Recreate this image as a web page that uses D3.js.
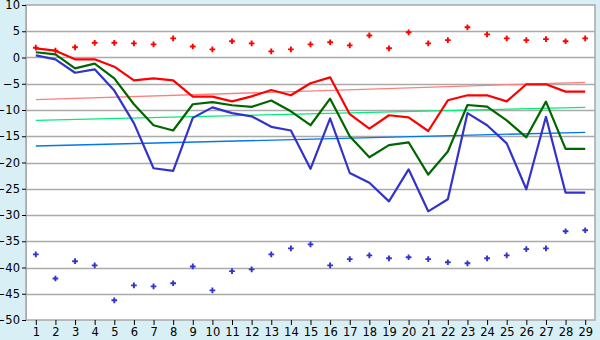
<!DOCTYPE html>
<html>
<head>
<meta charset="utf-8">
<script src="https://cdn.jsdelivr.net/npm/d3@7"></script>
<style>
  body { margin: 0; background: #d9eff6; }
  svg { display: block; }
  .tick text { font-family: "DejaVu Sans", sans-serif; font-size: 11.5px; fill: #000; }
</style>
</head>
<body>
<div id="chart"></div>
<script>
// days on the x axis
const days = d3.range(1, 30);

const redLine = [1.75, 1.3, -0.35, -0.35, -1.75, -4.35, -3.97, -4.35, -7.45, -7.45,
  -8.35, -7.4, -6.2, -7.2, -4.9, -3.78, -10.8, -13.55, -11.0, -11.4,
  -14.0, -8.15, -7.2, -7.2, -8.35, -5.1, -5.1, -6.5, -6.5];

const greenLine = [1.0, 0.6, -2.06, -1.17, -3.97, -8.9, -12.9, -13.9, -8.9, -8.5,
  -9.1, -9.4, -8.2, -10.25, -12.9, -7.85, -15.0, -19.0, -16.7, -16.15,
  -22.3, -17.9, -9.05, -9.37, -11.97, -15.2, -8.4, -17.4, -17.4];

const blueLine = [0.4, -0.35, -2.9, -2.26, -6.3, -12.5, -21.1, -21.6, -11.5, -9.5,
  -10.6, -11.2, -13.2, -13.9, -21.2, -11.6, -22.0, -23.85, -27.4, -21.3,
  -29.3, -27.0, -10.6, -12.9, -16.35, -25.1, -11.3, -25.75, -25.75];

const redPoints = [1.87, 1.3, 1.94, 2.8, 2.8, 2.7, 2.5, 3.65, 2.1, 1.55,
  3.1, 2.7, 1.17, 1.55, 2.5, 2.9, 2.3, 4.2, 1.75, 4.8,
  2.7, 3.3, 5.75, 4.4, 3.65, 3.3, 3.5, 3.1, 3.65];

const bluePoints = [-37.5, -42.1, -38.8, -39.6, -46.25, -43.4, -43.6, -43.0, -39.8, -44.35,
  -40.7, -40.35, -37.5, -36.35, -35.6, -39.6, -38.4, -37.7, -38.25, -38.05,
  -38.4, -39.0, -39.2, -38.25, -37.7, -36.5, -36.35, -33.1, -32.9];

// trend lines, start (day 1) and end (day 29)
const redTrend = [-8.04, -4.73];
const greenTrend = [-11.97, -9.5];
const blueTrend = [-16.86, -14.25];

const yTicks = d3.range(-50, 11, 5);

let W = 600, H = 340;
let margin = {top: 5, right: 5, bottom: 20, left: 26};

let svg = d3.select("#chart").append("svg")
            .attr("width", W)
            .attr("height", H);

let x = d3.scalePoint()
          .domain(days)
          .range([margin.left, W - margin.right])
          .padding(0.5);

let y = d3.scaleLinear()
          .domain([-50, 10])
          .range([H - margin.bottom, margin.top]);

// plot background
svg.append("rect")
   .attr("x", margin.left)
   .attr("y", margin.top)
   .attr("width", W - margin.right - margin.left)
   .attr("height", H - margin.bottom - margin.top)
   .attr("fill", "white")
   .attr("stroke", "#a8a8a8")
   .attr("stroke-width", 1.5);

// grid lines
svg.append("g")
   .selectAll("line")
   .data(yTicks.filter(d => d > -50 && d < 10))
   .enter()
   .append("line")
   .attr("x1", margin.left)
   .attr("x2", W - margin.right)
   .attr("y1", d => Math.round(y(d)) + 0.5)
   .attr("y2", d => Math.round(y(d)) + 0.5)
   .attr("stroke", "#aaaaaa")
   .attr("stroke-width", 1.5);

// axes
let yAxis = svg.append("g")
   .attr("transform", `translate(${margin.left}, 0)`)
   .call(d3.axisLeft(y).tickValues(yTicks).tickSize(4).tickPadding(2));
yAxis.select(".domain").attr("stroke", "#a8a8a8");

let xAxis = svg.append("g")
   .attr("transform", `translate(0, ${H - margin.bottom})`)
   .call(d3.axisBottom(x).tickSize(5).tickPadding(3));
xAxis.select(".domain").remove();

// trend lines
function drawTrend(vals, color) {
  svg.append("line")
     .attr("x1", x(days[0]))
     .attr("x2", x(days[days.length - 1]))
     .attr("y1", y(vals[0]))
     .attr("y2", y(vals[1]))
     .attr("stroke", color)
     .attr("stroke-width", 1.3);
}
drawTrend(redTrend, "#ff7f7f");
drawTrend(greenTrend, "#00ee77");
drawTrend(blueTrend, "#0077ee");

// series lines
let line = d3.line()
             .x((d, i) => x(days[i]))
             .y(d => y(d));

function drawLine(vals, color) {
  svg.append("path")
     .datum(vals)
     .attr("d", line)
     .attr("fill", "none")
     .attr("stroke", color)
     .attr("stroke-width", 2.2)
     .attr("stroke-linejoin", "round");
}
drawLine(blueLine, "#3333cc");
drawLine(greenLine, "#006600");
drawLine(redLine, "#ff0000");

// markers
let cross = d3.symbol().type(d3.symbolCross).size(18);

function drawPoints(vals, color) {
  svg.append("g")
     .selectAll("path")
     .data(vals)
     .enter()
     .append("path")
     .attr("d", cross)
     .attr("transform", (d, i) => `translate(${x(days[i])}, ${y(d)})`)
     .attr("fill", color);
}
drawPoints(redPoints, "#ff0000");
drawPoints(bluePoints, "#3333cc");
</script>
</body>
</html>
